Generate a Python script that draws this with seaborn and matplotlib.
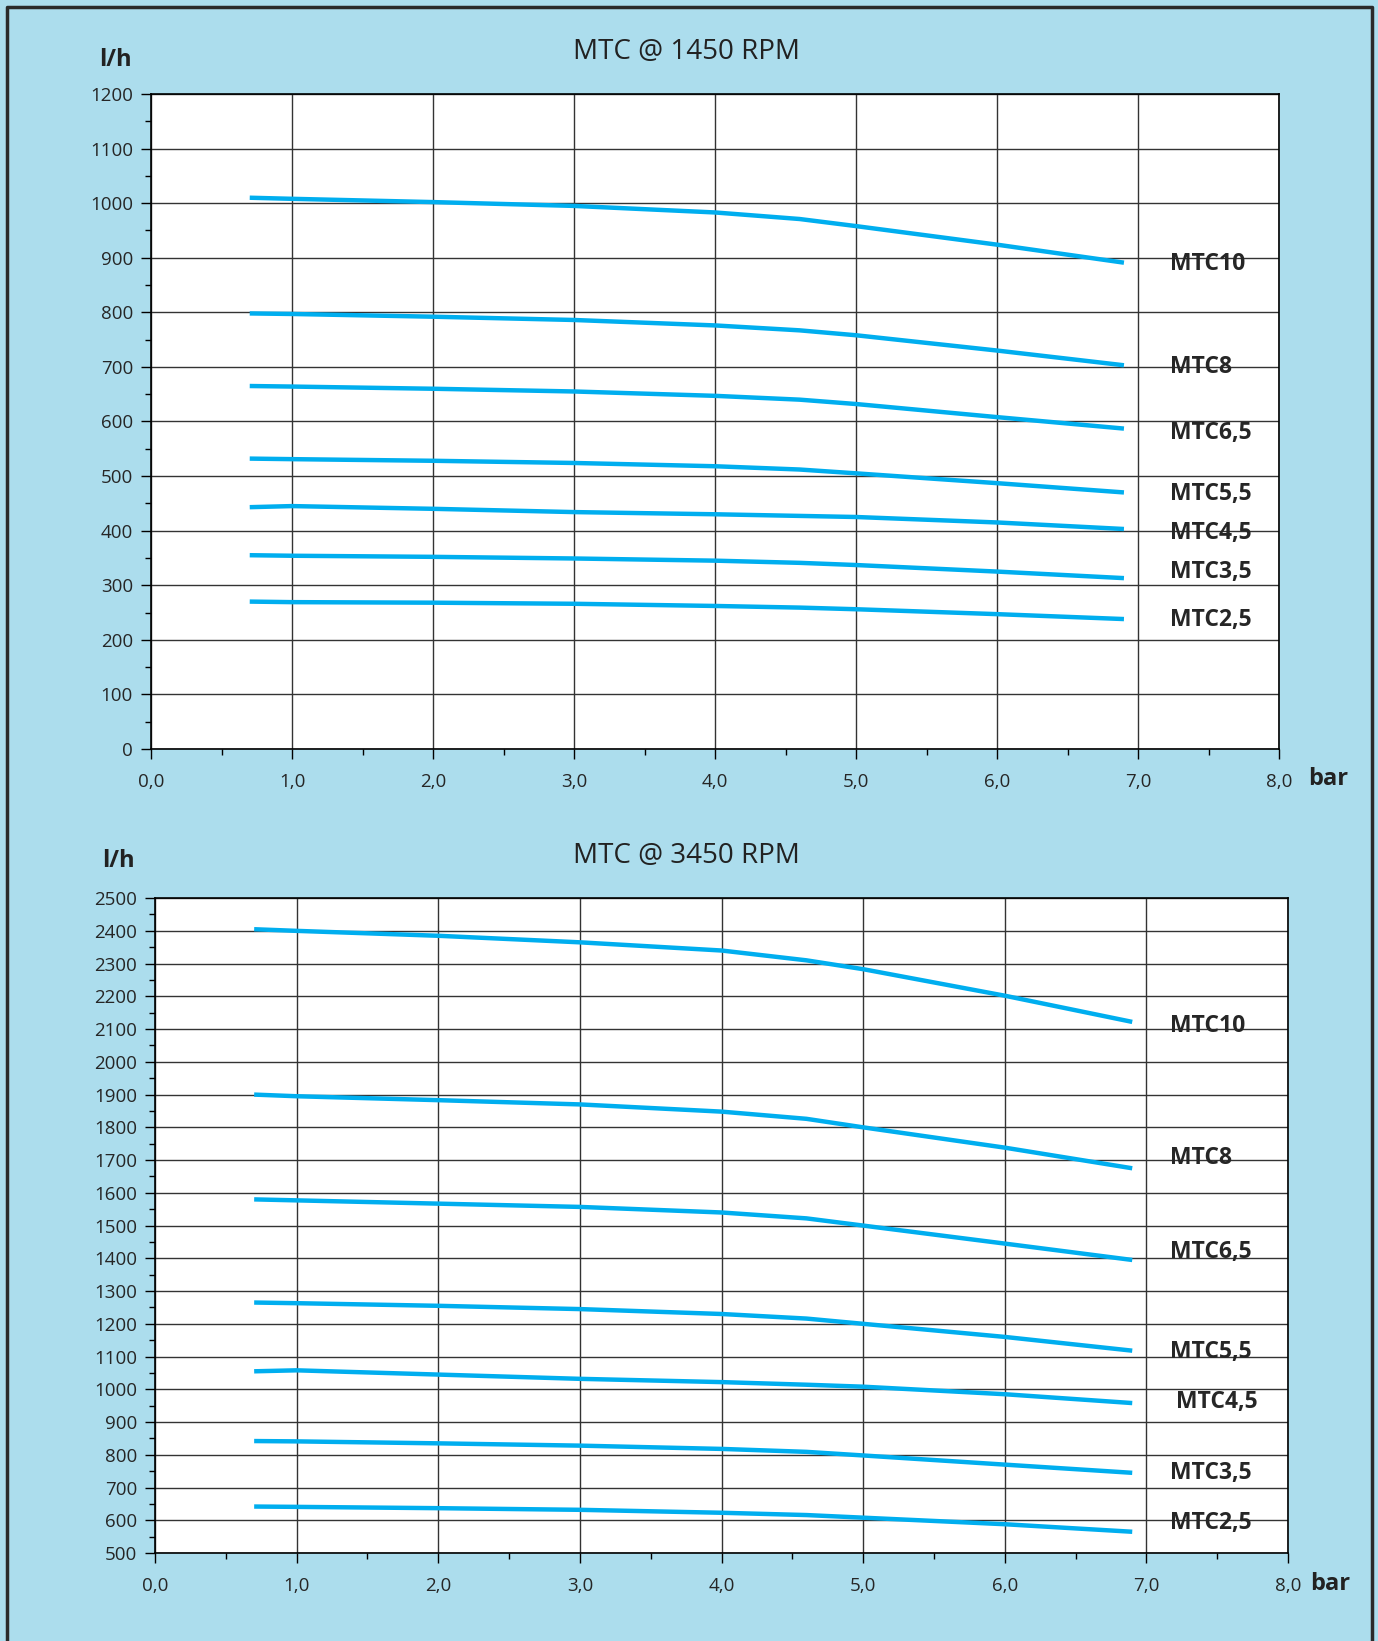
import pandas as pd
import seaborn as sns
import matplotlib.pyplot as plt
from matplotlib.lines import Line2D
from matplotlib.ticker import MultipleLocator, FixedLocator

# ---- data ----
models = ["MTC10", "MTC8", "MTC6,5", "MTC5,5", "MTC4,5", "MTC3,5", "MTC2,5"]
bar_pts = [0.7, 1.0, 2.0, 3.0, 4.0, 4.6, 5.0, 6.0, 6.9]

flow_1450 = {
    "MTC10":  [1010, 1008, 1002, 995, 983, 971, 958, 924, 891],
    "MTC8":   [798, 797, 792, 786, 776, 767, 758, 730, 703],
    "MTC6,5": [665, 664, 660, 655, 647, 640, 632, 608, 587],
    "MTC5,5": [532, 531, 528, 524, 518, 512, 505, 487, 470],
    "MTC4,5": [443, 445, 440, 434, 430, 427, 425, 415, 403],
    "MTC3,5": [355, 354, 352, 349, 345, 341, 337, 325, 313],
    "MTC2,5": [270, 269, 268, 266, 262, 259, 256, 247, 238],
}
flow_3450 = {
    "MTC10":  [2405, 2400, 2385, 2365, 2340, 2310, 2283, 2202, 2122],
    "MTC8":   [1900, 1895, 1883, 1870, 1848, 1826, 1800, 1738, 1675],
    "MTC6,5": [1580, 1577, 1567, 1557, 1540, 1522, 1500, 1445, 1395],
    "MTC5,5": [1265, 1263, 1255, 1245, 1230, 1216, 1200, 1160, 1118],
    "MTC4,5": [1055, 1058, 1045, 1032, 1022, 1014, 1008, 985, 958],
    "MTC3,5": [842, 841, 835, 828, 818, 809, 798, 770, 745],
    "MTC2,5": [642, 641, 637, 632, 623, 616, 608, 588, 565],
}
label_y_1450 = [888, 700, 578, 468, 396, 325, 236]
label_y_3450 = [2110, 1705, 1420, 1113, 960, 743, 593]

x_ticks = [0, 1, 2, 3, 4, 5, 6, 7, 8]
x_ticklabels = ["0,0", "1,0", "2,0", "3,0", "4,0", "5,0", "6,0", "7,0", "8,0"]

BG = "#acdded"
LINE = "#00aeef"

sns.set_style("white")
plt.rcParams["font.family"] = ["Open Sans", "DejaVu Sans"]


def to_long(flows):
    rows = []
    for m in models:
        for b, v in zip(bar_pts, flows[m]):
            rows.append({"model": m, "bar": b, "lh": v})
    return pd.DataFrame(rows)


fig = plt.figure(figsize=(13.78, 16.41), dpi=100, facecolor=BG)

ax1 = fig.add_axes([0.1096, 0.5436, 0.8186, 0.3991])
ax2 = fig.add_axes([0.1125, 0.0536, 0.8222, 0.3991])

panels = [
    (ax1, flow_1450, label_y_1450, (0, 1200), 7.23),
    (ax2, flow_3450, label_y_3450, (500, 2500), 7.17),
]

for ax, flows, lab_y, ylim, lab_x in panels:
    df = to_long(flows)
    sns.lineplot(data=df, x="bar", y="lh", hue="model", palette=[LINE] * len(models),
                 linewidth=3.2, legend=False, ax=ax, zorder=3, solid_capstyle="butt")
    ax.set_facecolor("white")
    ax.set_xlim(0, 8)
    ax.set_ylim(*ylim)
    ax.xaxis.set_major_locator(FixedLocator(x_ticks))
    ax.set_xticklabels(x_ticklabels)
    ax.xaxis.set_minor_locator(MultipleLocator(0.5))
    ax.yaxis.set_major_locator(MultipleLocator(100))
    ax.yaxis.set_minor_locator(MultipleLocator(50))
    ax.grid(True, which="major", color="#333333", linewidth=1.0, zorder=1)
    ax.tick_params(axis="both", which="both", bottom=True, left=True, direction="out",
                   color="black", width=1)
    ax.tick_params(axis="both", which="major", length=7, labelsize=13.5, pad=6)
    ax.tick_params(axis="both", which="minor", length=4)
    ax.tick_params(axis="x", which="major", pad=10)
    for s in ax.spines.values():
        s.set_color("black")
        s.set_linewidth(1.2)
    ax.set_xlabel("")
    ax.set_ylabel("")
    for m, y in zip(models, lab_y):
        dx = lab_x + 0.04 if m == "MTC4,5" and ax is ax2 else lab_x
        ax.text(dx, y, m, fontsize=16.5, fontweight="bold", ha="left", va="center", zorder=4)

fig.text(0.4985, 1 - 52 / 1641, "MTC @ 1450 RPM", fontsize=20, ha="center", va="center", color="#222222")
fig.text(0.4985, 1 - 856 / 1641, "MTC @ 3450 RPM", fontsize=20, ha="center", va="center", color="#222222")
fig.text(115 / 1378, 1 - 60 / 1641, "l/h", fontsize=17, fontweight="bold", ha="center", va="center", color="#222222")
fig.text(118 / 1378, 1 - 861 / 1641, "l/h", fontsize=17, fontweight="bold", ha="center", va="center", color="#222222")
fig.text(1328 / 1378, 1 - 779 / 1641, "bar", fontsize=17, fontweight="bold", ha="center", va="center", color="#222222")
fig.text(1330 / 1378, 1 - 1584 / 1641, "bar", fontsize=17, fontweight="bold", ha="center", va="center", color="#222222")

# dark frame around the page (left, top, right)
fx0, fx1, fy1 = 7 / 1378, 1372 / 1378, 1 - 7 / 1641
fig.add_artist(Line2D([fx0, fx0, fx1, fx1], [0, fy1, fy1, 0], color="#2a2a2a", linewidth=2.5))

fig.savefig("out.png", dpi=100, facecolor=BG)
